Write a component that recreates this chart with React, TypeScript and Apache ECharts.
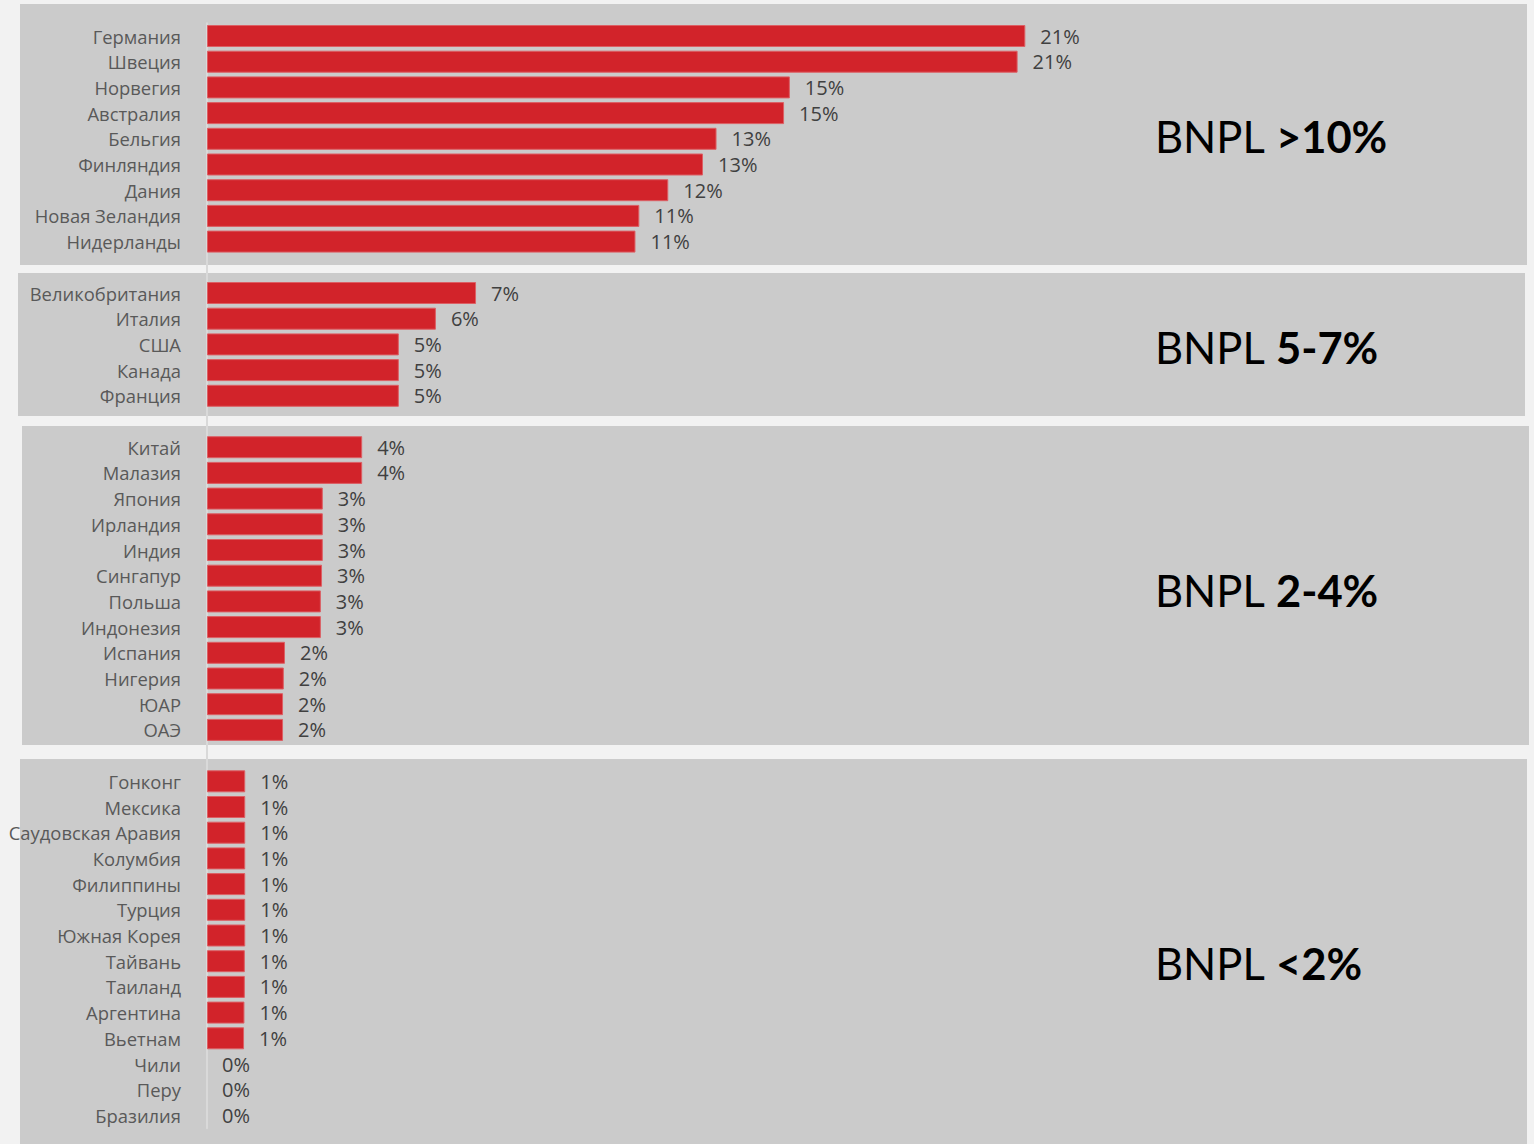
import React, { useEffect, useRef } from "react";
import * as echarts from "echarts";

const group1Names = ["Германия", "Швеция", "Норвегия", "Австралия", "Бельгия", "Финляндия", "Дания", "Новая Зеландия", "Нидерланды"];
const group1Values = [21.2, 21.0, 15.1, 14.95, 13.2, 12.85, 11.95, 11.2, 11.1];

const group2Names = ["Великобритания", "Италия", "США", "Канада", "Франция"];
const group2Values = [6.97, 5.93, 4.97, 4.97, 4.97];

const group3Names = ["Китай", "Малазия", "Япония", "Ирландия", "Индия", "Сингапур", "Польша", "Индонезия", "Испания", "Нигерия", "ЮАР", "ОАЭ"];
const group3Values = [4.02, 4.02, 3.0, 3.0, 3.0, 2.98, 2.95, 2.95, 2.02, 1.99, 1.97, 1.97];

const group4Names = ["Гонконг", "Мексика", "Саудовская Аравия", "Колумбия", "Филиппины", "Турция", "Южная Корея", "Тайвань", "Таиланд", "Аргентина", "Вьетнам", "Чили", "Перу", "Бразилия"];
const group4Values = [0.99, 0.99, 0.99, 0.99, 0.99, 0.99, 0.99, 0.98, 0.98, 0.97, 0.96, 0, 0, 0];

const groupTitles = [
  { plain: "BNPL ", bold: ">10%" },
  { plain: "BNPL ", bold: "5-7%" },
  { plain: "BNPL ", bold: "2-4%" },
  { plain: "BNPL ", bold: "<2%" },
];

const groups = [
  { names: group1Names, values: group1Values },
  { names: group2Names, values: group2Values },
  { names: group3Names, values: group3Values },
  { names: group4Names, values: group4Values },
];

// panel geometry (decoration)
const panels = [
  { x: 20, y: 4, w: 1507, h: 261, ty: 136 },
  { x: 18, y: 273, w: 1507, h: 143, ty: 347 },
  { x: 22, y: 426, w: 1507, h: 319, ty: 590 },
  { x: 20, y: 759, w: 1507, h: 385, ty: 963 },
];

export default function App() {
  const ref = useRef<HTMLDivElement>(null);
  useEffect(() => {
    if (!ref.current) return;
    const chart = echarts.init(ref.current, undefined, { renderer: "svg" });

    const categories: string[] = [];
    const values: any[] = [];
    groups.forEach((g, gi) => {
      if (gi > 0) {
        categories.push(" ".repeat(gi));
        values.push(null);
      }
      g.names.forEach((n, i) => {
        categories.push(n);
        const v = g.values[i];
        values.push(v > 0 ? v : { value: v, itemStyle: { borderWidth: 0, color: "transparent" } });
      });
    });

    const graphics: any[] = [];
    panels.forEach((p, i) => {
      graphics.push({
        type: "rect",
        z: -10,
        silent: true,
        shape: { x: p.x, y: p.y, width: p.w, height: p.h },
        style: { fill: "#cbcbcb" },
      });
      graphics.push({
        type: "text",
        z: 10,
        x: 1155,
        y: p.ty,
        style: {
          text: `{n|${groupTitles[i].plain}}{b|${groupTitles[i].bold}}`,
          textAlign: "left",
          textVerticalAlign: "middle",
          verticalAlign: "middle",
          rich: {
            n: { fontSize: 43.5, fontFamily: "Lato", fontWeight: "normal", fill: "#000", color: "#000" },
            b: { fontSize: 43.5, fontFamily: "Lato", fontWeight: "bold", fill: "#000", color: "#000" },
          },
        },
      });
    });

    chart.setOption({
      animation: false,
      backgroundColor: "#f2f2f2",
      graphic: graphics,
      grid: { left: 207, top: 23.15, height: 1105.1, width: 1158, containLabel: false },
      xAxis: {
        type: "value",
        min: 0,
        max: 30,
        show: false,
      },
      yAxis: {
        type: "category",
        inverse: true,
        data: categories,
        axisLine: { show: true, lineStyle: { color: "#d9d9d9", width: 2 } },
        axisTick: { show: false },
        axisLabel: {
          margin: 26,
          fontFamily: "Open Sans",
          fontSize: 18.4,
          color: "#595959",
        },
      },
      series: [
        {
          type: "bar",
          data: values,
          barWidth: 22,
          itemStyle: { color: "#d2232a", borderColor: "#dc5f64", borderWidth: 1 },
          label: {
            show: true,
            position: "right",
            distance: 15,
            fontFamily: "Open Sans",
            fontSize: 20,
            color: "#404040",
            formatter: (p: any) => (p.value == null ? "" : Math.round(p.value) + "%"),
          },
        },
      ],
    });
    return () => chart.dispose();
  }, []);
  return <div ref={ref} style={{ position: "absolute", left: 0, top: 0, width: 1534, height: 1144 }} />;
}
